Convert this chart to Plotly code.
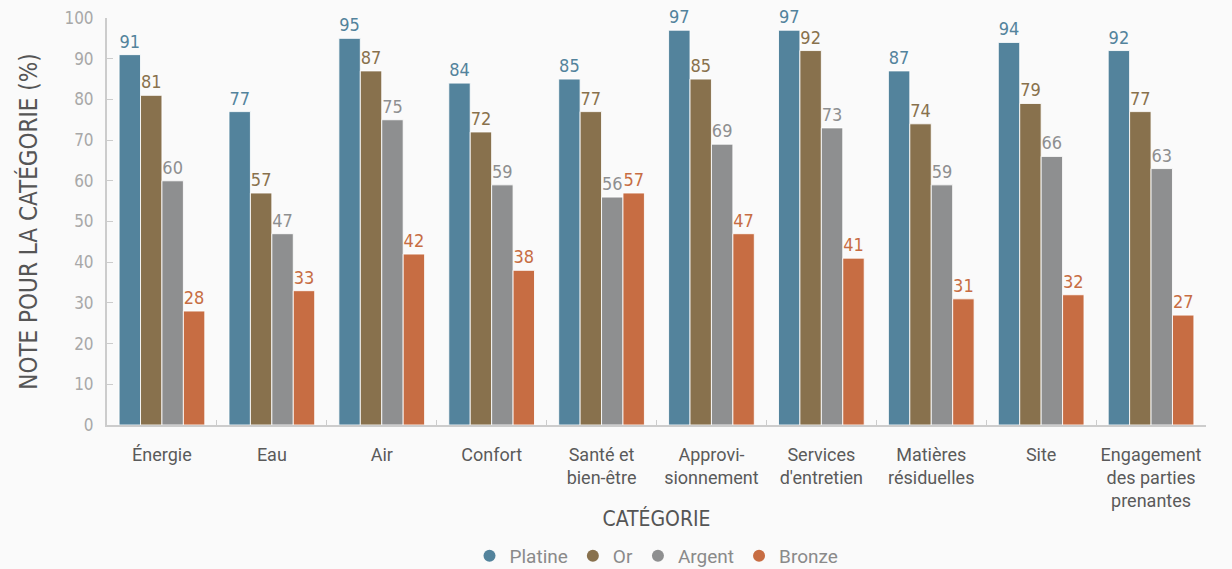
import plotly.graph_objects as go

# Category labels (line breaks as shown under the axis)
categories = [
    "Énergie", "Eau", "Air", "Confort", "Santé et<br>bien-être",
    "Approvi-<br>sionnement", "Services<br>d'entretien", "Matières<br>résiduelles",
    "Site", "Engagement<br>des parties<br>prenantes",
]

# Score per certification level (%)
platine = [91, 77, 95, 84, 85, 97, 97, 87, 94, 92]
or_ = [81, 57, 87, 72, 77, 85, 92, 74, 79, 77]
argent = [60, 47, 75, 59, 56, 69, 73, 59, 66, 63]
bronze = [28, 33, 42, 38, 57, 47, 41, 31, 32, 27]

y_ticks = [0, 10, 20, 30, 40, 50, 60, 70, 80, 90, 100]

series = [
    ("Platine", platine, "#53839c"),
    ("Or", or_, "#88714d"),
    ("Argent", argent, "#8e8f90"),
    ("Bronze", bronze, "#c76d43"),
]

NUM_FONT = "DejaVu Sans Condensed, Roboto, sans-serif"
TXT_FONT = "Roboto, sans-serif"

fig = go.Figure()
for name, vals, color in series:
    fig.add_trace(go.Bar(
        x=categories, y=vals, name=name,
        marker=dict(color=color, line=dict(color="rgba(255,255,255,0.85)", width=1)),
        text=[str(v) for v in vals], textposition="outside",
        textfont=dict(family=NUM_FONT, size=18, color=color),
        cliponaxis=False, showlegend=False,
    ))
    # legend entry with a round marker
    fig.add_trace(go.Scatter(
        x=[None], y=[None], mode="markers", name=name,
        marker=dict(symbol="circle", size=14, color=color),
    ))

fig.update_layout(
    width=1232, height=569,
    margin=dict(l=107, r=26, t=18, b=144, autoexpand=False),
    paper_bgcolor="#fafafa", plot_bgcolor="#fafafa",
    barmode="group", bargap=0.22, bargroupgap=0.0,
    showlegend=True,
    legend=dict(
        orientation="h", x=0.5, xanchor="center",
        yref="container", y=13 / 569, yanchor="middle",
        font=dict(family=TXT_FONT, size=19, color="#8a8a8a"),
        itemsizing="constant", itemwidth=30, tracegroupgap=0,
    ),
    xaxis=dict(
        automargin=False, tickangle=0,
        showline=True, linecolor="#cccccc", linewidth=2,
        ticks="inside", tickson="boundaries", ticklen=5, tickcolor="#cccccc",
        ticklabelstandoff=12,
        tickfont=dict(family=TXT_FONT, size=18, color="#5a5a5a"),
        title=dict(text="CATÉGORIE", font=dict(family=NUM_FONT, size=21, color="#555555"), standoff=1),
        showgrid=False,
    ),
    yaxis=dict(
        automargin=False,
        range=[0, 100], tickvals=y_ticks,
        showline=True, linecolor="#cccccc", linewidth=2,
        ticks="inside", ticklen=6, tickcolor="#cccccc",
        ticklabelstandoff=8,
        tickfont=dict(family=NUM_FONT, size=17, color="#a8a8a8"),
        title=dict(text="NOTE POUR LA CATÉGORIE (%)", font=dict(family=NUM_FONT, size=24, color="#555555"), standoff=20),
        showgrid=False, zeroline=False,
    ),
)

fig.write_html("out.html")
